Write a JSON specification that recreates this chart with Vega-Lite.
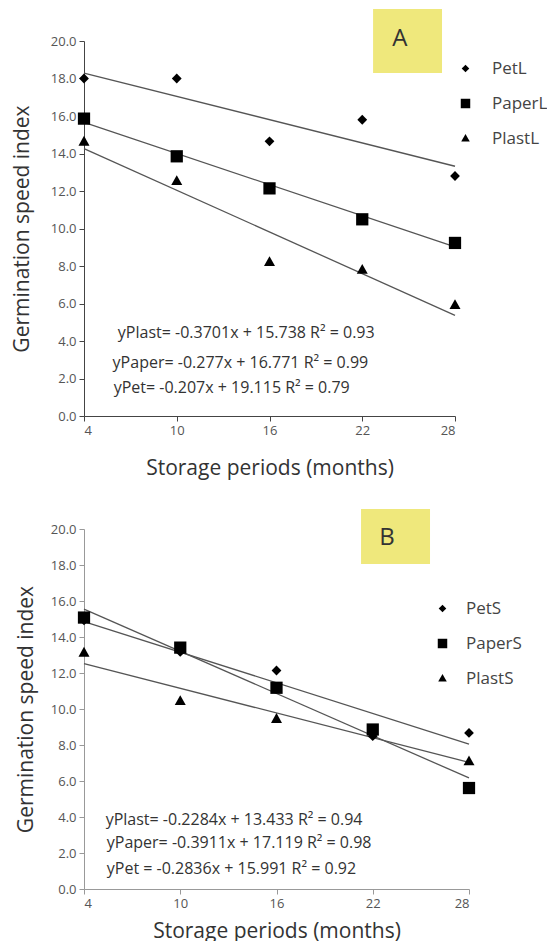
{
  "$schema": "https://vega.github.io/schema/vega-lite/v6.json",
  "background": "white",
  "padding": {"left": 11, "top": 8, "right": 0, "bottom": 0},
  "spacing": 31,
  "resolve": {"scale": {"shape": "independent"}, "legend": {"shape": "independent"}},
  "config": {
    "font": "Open Sans",
    "view": {"stroke": null},
    "axis": {
      "grid": false,
      "tickSize": 5,
      "labelFontSize": 13,
      "labelColor": "#555",
      "labelPadding": 3,
      "labelOverlap": false,
      "titleFontSize": 21,
      "titleFontWeight": "normal",
      "titleColor": "#333"
    },
    "legend": {
      "labelFontSize": 17,
      "labelColor": "#444",
      "symbolFillColor": "black",
      "symbolStrokeColor": "black",
      "symbolStrokeWidth": 0,
      "symbolSize": 90,
      "rowPadding": 17,
      "labelOffset": 18,
      "padding": 0
    }
  },
  "datasets": {
    "ptsA": [
      {"month": 4, "series": "PetL", "gsi": 18.0},
      {"month": 10, "series": "PetL", "gsi": 18.0},
      {"month": 16, "series": "PetL", "gsi": 14.65},
      {"month": 22, "series": "PetL", "gsi": 15.8},
      {"month": 28, "series": "PetL", "gsi": 12.8},
      {"month": 4, "series": "PaperL", "gsi": 15.86},
      {"month": 10, "series": "PaperL", "gsi": 13.85},
      {"month": 16, "series": "PaperL", "gsi": 12.14},
      {"month": 22, "series": "PaperL", "gsi": 10.49},
      {"month": 28, "series": "PaperL", "gsi": 9.23},
      {"month": 4, "series": "PlastL", "gsi": 14.63},
      {"month": 10, "series": "PlastL", "gsi": 12.53},
      {"month": 16, "series": "PlastL", "gsi": 8.21},
      {"month": 22, "series": "PlastL", "gsi": 7.8},
      {"month": 28, "series": "PlastL", "gsi": 5.92}
    ],
    "fitA": [
      {"month": 4, "series": "PetL", "gsi": 18.29},
      {"month": 28, "series": "PetL", "gsi": 13.32},
      {"month": 4, "series": "PaperL", "gsi": 15.66},
      {"month": 28, "series": "PaperL", "gsi": 9.02},
      {"month": 4, "series": "PlastL", "gsi": 14.26},
      {"month": 28, "series": "PlastL", "gsi": 5.37}
    ],
    "ptsB": [
      {"month": 4, "series": "PetS", "gsi": 14.93},
      {"month": 10, "series": "PetS", "gsi": 13.17},
      {"month": 16, "series": "PetS", "gsi": 12.14},
      {"month": 22, "series": "PetS", "gsi": 8.49},
      {"month": 28, "series": "PetS", "gsi": 8.67},
      {"month": 4, "series": "PaperS", "gsi": 15.08},
      {"month": 10, "series": "PaperS", "gsi": 13.41},
      {"month": 16, "series": "PaperS", "gsi": 11.18},
      {"month": 22, "series": "PaperS", "gsi": 8.86},
      {"month": 28, "series": "PaperS", "gsi": 5.61},
      {"month": 4, "series": "PlastS", "gsi": 13.13},
      {"month": 10, "series": "PlastS", "gsi": 10.44},
      {"month": 16, "series": "PlastS", "gsi": 9.45},
      {"month": 22, "series": "PlastS", "gsi": 8.8},
      {"month": 28, "series": "PlastS", "gsi": 7.09}
    ],
    "fitB": [
      {"month": 4, "series": "PetS", "gsi": 14.86},
      {"month": 28, "series": "PetS", "gsi": 8.05},
      {"month": 4, "series": "PaperS", "gsi": 15.55},
      {"month": 28, "series": "PaperS", "gsi": 6.17},
      {"month": 4, "series": "PlastS", "gsi": 12.52},
      {"month": 28, "series": "PlastS", "gsi": 7.04}
    ],
    "boxA": [{"panel": "A"}],
    "boxB": [{"panel": "B"}],
    "eqA": [
      {"eq": "yPlast= -0.3701x + 15.738 R² = 0.93"},
      {"eq": "yPaper= -0.277x + 16.771 R² = 0.99"},
      {"eq": "yPet= -0.207x + 19.115 R² = 0.79"}
    ],
    "eqB": [
      {"eq": "yPlast= -0.2284x + 13.433 R² = 0.94"},
      {"eq": "yPaper= -0.3911x + 17.119 R² = 0.98"},
      {"eq": "yPet = -0.2836x + 15.991 R² = 0.92"}
    ]
  },
  "vconcat": [
    {
      "width": 371,
      "height": 375,
      "layer": [
        {
          "data": {"name": "boxA"},
          "mark": {"type": "rect", "color": "#efe87c", "opacity": 1},
          "encoding": {
            "x": {"datum": 22.7, "type": "quantitative", "scale": {"domain": [4, 28], "nice": false, "zero": false}, "title": "Storage periods (months)", "axis": {"values": [4, 10, 16, 22, 28], "format": "d", "labelOverlap": false, "titlePadding": 20, "domainColor": "#444", "tickColor": "#444"}},
            "x2": {"datum": 27.16},
            "y": {"datum": 18.29, "type": "quantitative", "scale": {"domain": [0, 20], "nice": false}, "title": "Germination speed index", "axis": {"values": [0, 2, 4, 6, 8, 10, 12, 14, 16, 18, 20], "format": ".1f", "labelOverlap": false, "titlePadding": 18, "domainColor": "#444", "tickColor": "#444"}},
            "y2": {"datum": 21.71}
          }
        },
        {
          "data": {"name": "boxA"},
          "mark": {"type": "text", "fontSize": 24, "color": "#333", "align": "center", "baseline": "middle"},
          "encoding": {
            "x": {"datum": 24.44, "type": "quantitative", "title": "Storage periods (months)", "axis": {"values": [4, 10, 16, 22, 28], "format": "d", "labelOverlap": false, "titlePadding": 20, "domainColor": "#444", "tickColor": "#444"}},
            "y": {"datum": 20.1, "type": "quantitative", "title": "Germination speed index", "axis": {"values": [0, 2, 4, 6, 8, 10, 12, 14, 16, 18, 20], "format": ".1f", "labelOverlap": false, "titlePadding": 18, "domainColor": "#444", "tickColor": "#444"}},
            "text": {"field": "panel"}
          }
        },
        {
          "data": {"name": "fitA"},
          "mark": {"type": "line", "color": "#555", "strokeWidth": 1.3},
          "encoding": {
            "x": {"field": "month", "type": "quantitative", "title": "Storage periods (months)", "axis": {"values": [4, 10, 16, 22, 28], "format": "d", "labelOverlap": false, "titlePadding": 20, "domainColor": "#444", "tickColor": "#444"}},
            "y": {"field": "gsi", "type": "quantitative", "title": "Germination speed index", "axis": {"values": [0, 2, 4, 6, 8, 10, 12, 14, 16, 18, 20], "format": ".1f", "labelOverlap": false, "titlePadding": 18, "domainColor": "#444", "tickColor": "#444"}},
            "detail": {"field": "series"}
          }
        },
        {
          "data": {"name": "ptsA"},
          "mark": {"type": "point", "filled": true, "color": "black", "opacity": 1, "size": 150},
          "encoding": {
            "x": {"field": "month", "type": "quantitative", "title": "Storage periods (months)", "axis": {"values": [4, 10, 16, 22, 28], "format": "d", "labelOverlap": false, "titlePadding": 20, "domainColor": "#444", "tickColor": "#444"}},
            "y": {"field": "gsi", "type": "quantitative", "title": "Germination speed index", "axis": {"values": [0, 2, 4, 6, 8, 10, 12, 14, 16, 18, 20], "format": ".1f", "labelOverlap": false, "titlePadding": 18, "domainColor": "#444", "tickColor": "#444"}},
            "shape": {
              "field": "series",
              "type": "nominal",
              "scale": {
                "domain": ["PetL", "PaperL", "PlastL"],
                "range": ["M0,-0.8L0.8,0L0,0.8L-0.8,0Z", "M-1,-1H1V1H-1Z", "M0,-0.95L0.9,0.65L-0.9,0.65Z"]
              },
              "legend": {"title": null, "orient": "none", "legendX": 373, "legendY": 19}
            }
          }
        },
        {
          "data": {"name": "eqA"},
          "transform": [{"filter": "datum.eq[1] == 'P' && datum.eq[2] == 'l'"}],
          "mark": {"type": "text", "align": "left", "baseline": "middle", "fontSize": 16, "color": "#333"},
          "encoding": {
            "x": {"datum": 6.19, "type": "quantitative", "title": "Storage periods (months)", "axis": {"values": [4, 10, 16, 22, 28], "format": "d", "labelOverlap": false, "titlePadding": 20, "domainColor": "#444", "tickColor": "#444"}},
            "y": {"datum": 4.41, "type": "quantitative", "title": "Germination speed index", "axis": {"values": [0, 2, 4, 6, 8, 10, 12, 14, 16, 18, 20], "format": ".1f", "labelOverlap": false, "titlePadding": 18, "domainColor": "#444", "tickColor": "#444"}},
            "text": {"field": "eq"}
          }
        },
        {
          "data": {"name": "eqA"},
          "transform": [{"filter": "datum.eq[2] == 'a'"}],
          "mark": {"type": "text", "align": "left", "baseline": "middle", "fontSize": 16, "color": "#333"},
          "encoding": {
            "x": {"datum": 5.85, "type": "quantitative", "title": "Storage periods (months)", "axis": {"values": [4, 10, 16, 22, 28], "format": "d", "labelOverlap": false, "titlePadding": 20, "domainColor": "#444", "tickColor": "#444"}},
            "y": {"datum": 2.84, "type": "quantitative", "title": "Germination speed index", "axis": {"values": [0, 2, 4, 6, 8, 10, 12, 14, 16, 18, 20], "format": ".1f", "labelOverlap": false, "titlePadding": 18, "domainColor": "#444", "tickColor": "#444"}},
            "text": {"field": "eq"}
          }
        },
        {
          "data": {"name": "eqA"},
          "transform": [{"filter": "datum.eq[2] == 'e'"}],
          "mark": {"type": "text", "align": "left", "baseline": "middle", "fontSize": 16, "color": "#333"},
          "encoding": {
            "x": {"datum": 5.92, "type": "quantitative", "title": "Storage periods (months)", "axis": {"values": [4, 10, 16, 22, 28], "format": "d", "labelOverlap": false, "titlePadding": 20, "domainColor": "#444", "tickColor": "#444"}},
            "y": {"datum": 1.51, "type": "quantitative", "title": "Germination speed index", "axis": {"values": [0, 2, 4, 6, 8, 10, 12, 14, 16, 18, 20], "format": ".1f", "labelOverlap": false, "titlePadding": 18, "domainColor": "#444", "tickColor": "#444"}},
            "text": {"field": "eq"}
          }
        }
      ]
    },
    {
      "width": 385,
      "height": 360,
      "layer": [
        {
          "data": {"name": "boxB"},
          "mark": {"type": "rect", "color": "#efe87c", "opacity": 1},
          "encoding": {
            "x": {"datum": 21.27, "type": "quantitative", "scale": {"domain": [4, 28], "nice": false, "zero": false}, "title": "Storage periods (months)", "axis": {"values": [4, 10, 16, 22, 28], "format": "d", "labelOverlap": false, "titlePadding": 10, "domainColor": "#999", "tickColor": "#999"}},
            "x2": {"datum": 25.57},
            "y": {"datum": 18.06, "type": "quantitative", "scale": {"domain": [0, 20], "nice": false}, "title": "Germination speed index", "axis": {"values": [0, 2, 4, 6, 8, 10, 12, 14, 16, 18, 20], "format": ".1f", "labelOverlap": false, "titlePadding": 14, "domainColor": "#999", "tickColor": "#999"}},
            "y2": {"datum": 21.11}
          }
        },
        {
          "data": {"name": "boxB"},
          "mark": {"type": "text", "fontSize": 24, "color": "#333", "align": "center", "baseline": "middle"},
          "encoding": {
            "x": {"datum": 22.89, "type": "quantitative", "title": "Storage periods (months)", "axis": {"values": [4, 10, 16, 22, 28], "format": "d", "labelOverlap": false, "titlePadding": 10, "domainColor": "#999", "tickColor": "#999"}},
            "y": {"datum": 19.5, "type": "quantitative", "title": "Germination speed index", "axis": {"values": [0, 2, 4, 6, 8, 10, 12, 14, 16, 18, 20], "format": ".1f", "labelOverlap": false, "titlePadding": 14, "domainColor": "#999", "tickColor": "#999"}},
            "text": {"field": "panel"}
          }
        },
        {
          "data": {"name": "fitB"},
          "mark": {"type": "line", "color": "#555", "strokeWidth": 1.3},
          "encoding": {
            "x": {"field": "month", "type": "quantitative", "title": "Storage periods (months)", "axis": {"values": [4, 10, 16, 22, 28], "format": "d", "labelOverlap": false, "titlePadding": 10, "domainColor": "#999", "tickColor": "#999"}},
            "y": {"field": "gsi", "type": "quantitative", "title": "Germination speed index", "axis": {"values": [0, 2, 4, 6, 8, 10, 12, 14, 16, 18, 20], "format": ".1f", "labelOverlap": false, "titlePadding": 14, "domainColor": "#999", "tickColor": "#999"}},
            "detail": {"field": "series"}
          }
        },
        {
          "data": {"name": "ptsB"},
          "mark": {"type": "point", "filled": true, "color": "black", "opacity": 1, "size": 150},
          "encoding": {
            "x": {"field": "month", "type": "quantitative", "title": "Storage periods (months)", "axis": {"values": [4, 10, 16, 22, 28], "format": "d", "labelOverlap": false, "titlePadding": 10, "domainColor": "#999", "tickColor": "#999"}},
            "y": {"field": "gsi", "type": "quantitative", "title": "Germination speed index", "axis": {"values": [0, 2, 4, 6, 8, 10, 12, 14, 16, 18, 20], "format": ".1f", "labelOverlap": false, "titlePadding": 14, "domainColor": "#999", "tickColor": "#999"}},
            "shape": {
              "field": "series",
              "type": "nominal",
              "scale": {
                "domain": ["PetS", "PaperS", "PlastS"],
                "range": ["M0,-0.8L0.8,0L0,0.8L-0.8,0Z", "M-1,-1H1V1H-1Z", "M0,-0.95L0.9,0.65L-0.9,0.65Z"]
              },
              "legend": {"title": null, "orient": "none", "legendX": 350, "legendY": 71, "labelOffset": 15}
            }
          }
        },
        {
          "data": {"name": "eqB"},
          "transform": [{"filter": "datum.eq[1] == 'P' && datum.eq[2] == 'l'"}],
          "mark": {"type": "text", "align": "left", "baseline": "middle", "fontSize": 16, "color": "#333"},
          "encoding": {
            "x": {"datum": 5.35, "type": "quantitative", "title": "Storage periods (months)", "axis": {"values": [4, 10, 16, 22, 28], "format": "d", "labelOverlap": false, "titlePadding": 10, "domainColor": "#999", "tickColor": "#999"}},
            "y": {"datum": 3.84, "type": "quantitative", "title": "Germination speed index", "axis": {"values": [0, 2, 4, 6, 8, 10, 12, 14, 16, 18, 20], "format": ".1f", "labelOverlap": false, "titlePadding": 14, "domainColor": "#999", "tickColor": "#999"}},
            "text": {"field": "eq"}
          }
        },
        {
          "data": {"name": "eqB"},
          "transform": [{"filter": "datum.eq[2] == 'a'"}],
          "mark": {"type": "text", "align": "left", "baseline": "middle", "fontSize": 16, "color": "#333"},
          "encoding": {
            "x": {"datum": 5.42, "type": "quantitative", "title": "Storage periods (months)", "axis": {"values": [4, 10, 16, 22, 28], "format": "d", "labelOverlap": false, "titlePadding": 10, "domainColor": "#999", "tickColor": "#999"}},
            "y": {"datum": 2.54, "type": "quantitative", "title": "Germination speed index", "axis": {"values": [0, 2, 4, 6, 8, 10, 12, 14, 16, 18, 20], "format": ".1f", "labelOverlap": false, "titlePadding": 14, "domainColor": "#999", "tickColor": "#999"}},
            "text": {"field": "eq"}
          }
        },
        {
          "data": {"name": "eqB"},
          "transform": [{"filter": "datum.eq[2] == 'e'"}],
          "mark": {"type": "text", "align": "left", "baseline": "middle", "fontSize": 16, "color": "#333"},
          "encoding": {
            "x": {"datum": 5.42, "type": "quantitative", "title": "Storage periods (months)", "axis": {"values": [4, 10, 16, 22, 28], "format": "d", "labelOverlap": false, "titlePadding": 10, "domainColor": "#999", "tickColor": "#999"}},
            "y": {"datum": 1.11, "type": "quantitative", "title": "Germination speed index", "axis": {"values": [0, 2, 4, 6, 8, 10, 12, 14, 16, 18, 20], "format": ".1f", "labelOverlap": false, "titlePadding": 14, "domainColor": "#999", "tickColor": "#999"}},
            "text": {"field": "eq"}
          }
        }
      ]
    }
  ]
}
